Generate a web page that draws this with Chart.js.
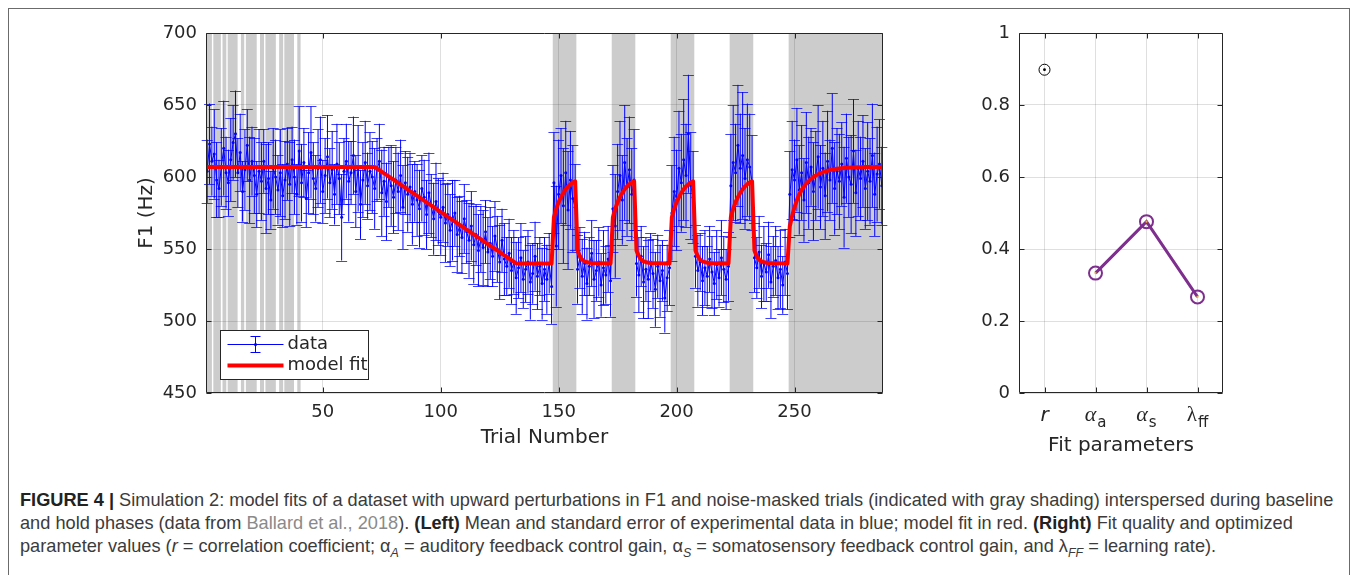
<!DOCTYPE html>
<html>
<head>
<meta charset="utf-8">
<title>Figure 4 - model fits</title>
<script src="https://cdn.jsdelivr.net/npm/chart.js@4.4.1/dist/chart.umd.min.js"></script>
<style>
    html, body { margin: 0; padding: 0; background: #fff; }
    #figure { position: relative; width: 1357px; height: 575px; overflow: hidden; }
    #frame { position: absolute; left: 8px; top: 8px; width: 1342px; height: 640px; border: 1px solid #6b6b6b; box-sizing: border-box; }
    canvas { position: absolute; top: 0; }
    #leftChart { left: 0; }
    #rightChart { left: 900px; }
    #caption {
        position: absolute; left: 20px; top: 489px;
        font-family: "Liberation Sans", Arial, sans-serif;
        font-size: 18.2px; line-height: 23px; color: #3b3b3b; white-space: nowrap;
    }
    #caption b { color: #222; }
    #caption .ref { color: #8a8a8a; }
    #caption sub { font-size: 12.5px; line-height: 0; }
</style>
</head>
<body>
<div id="figure">
    <div id="frame"></div>
    <canvas id="leftChart" width="900" height="470"></canvas>
    <canvas id="rightChart" width="457" height="470"></canvas>
    <div id="caption">
        <b>FIGURE 4 |</b> Simulation 2: model fits of a dataset with upward perturbations in F1 and noise-masked trials (indicated with gray shading) interspersed during baseline<br>
        and hold phases (data from <span class="ref">Ballard et al., 2018</span>). <b>(Left)</b> Mean and standard error of experimental data in blue; model fit in red. <b>(Right)</b> Fit quality and optimized<br>
        parameter values (<i>r</i> = correlation coefficient; α<sub><i>A</i></sub> = auditory feedback control gain, α<sub><i>S</i></sub> = somatosensory feedback control gain, and λ<sub><i>FF</i></sub> = learning rate).
    </div>
</div>

<script>
// -----------------------------
// DATA
// -----------------------------

// mean F1 per trial (Hz), trial 1..287
const f1Mean = [
    604, 623, 611, 616, 598, 592, 607, 620, 603, 596,
    612, 624, 630, 603, 617, 590, 605, 622, 598, 611,
    601, 588, 604, 597, 611, 592, 599, 584, 606, 600,
    591, 603, 587, 598, 609, 595, 612, 600, 588, 618,
    596, 610, 585, 603, 617, 599, 592, 606, 612, 590,
    601, 614, 596, 605, 588, 609, 599, 572, 604, 611,
    597, 603, 615, 590, 606, 581, 598, 610, 594, 604,
    600, 592, 605, 611, 589, 597, 583, 600, 594, 586,
    598, 590, 601, 579, 596, 588, 593, 581, 590, 584,
    578, 592, 586, 574, 589, 580, 571, 583, 576, 572,
    579, 568, 574, 563, 570, 575, 560, 566, 558, 571,
    562, 556, 566, 553, 560, 549, 557, 551, 562, 548,
    554, 545, 559, 550, 541, 556, 543, 538, 547, 535,
    541, 530, 537, 544, 529, 536, 541, 527, 533, 545,
    531, 538, 526, 536, 529, 540, 524,
    596, 552, 588, 601, 580, 603, 577, 598, 585, 579,
    536, 544, 531, 540, 526, 538, 547, 529, 535, 541, 525, 537, 532, 543, 528,
    578, 566, 590, 601, 584, 610, 593, 605, 588, 598,
    540, 532, 545, 527, 536, 529, 541, 533, 522, 538, 528, 535, 516, 530, 537,
    575, 590, 584, 606, 596, 612, 601, 630, 594, 586,
    545, 535, 541, 528, 537, 531, 543, 534, 526, 539, 530, 544, 536, 529, 538,
    594, 610, 603, 622, 606, 615, 599, 612, 607, 596,
    544, 537, 548, 531, 540, 534, 546, 527, 538, 542, 530, 536, 525, 541, 533,
    588, 605, 598, 612, 591, 603, 584, 610, 596, 607, 590,
    601, 614, 593, 606, 587, 611, 598, 620, 592, 604,
    597, 609, 586, 613, 600, 595, 618, 589, 606, 599,
    611, 592, 604, 597, 615, 588, 602, 609, 594
];

// standard error per trial (Hz)
const f1Err = [
    22, 28, 24, 31, 26, 20, 27, 33, 25, 23,
    29, 26, 30, 24, 27, 21, 28, 25, 30, 24,
    26, 23, 29, 27, 22, 31, 25, 20, 28, 26,
    24, 30, 22, 27, 25, 29, 23, 26, 21, 31,
    27, 24, 20, 28, 32, 25, 23, 27, 30, 22,
    26, 29, 24, 27, 21, 28, 25, 30, 23, 26,
    28, 22, 27, 25, 30, 24, 26, 29, 23, 27,
    25, 28, 22, 26, 30, 24, 27, 21, 28, 25,
    23, 27, 25, 29, 22, 26, 24, 28, 21, 25,
    27, 23, 26, 24, 28, 22, 25, 27, 23, 26,
    24, 27, 22, 25, 28, 23, 26, 21, 25, 24,
    22, 26, 24, 27, 21, 25, 23, 26, 22, 24,
    25, 21, 24, 23, 26, 22, 25, 20, 24, 23,
    22, 25, 21, 24, 20, 23, 22, 26, 21, 24,
    23, 20, 25, 22, 24, 21, 26,
    35, 42, 38, 33, 40, 36, 41, 34, 37, 30,
    24, 21, 26, 22, 25, 20, 23, 27, 21, 24, 22, 26, 20, 23, 25,
    30, 36, 33, 38, 31, 40, 34, 37, 32, 35,
    23, 26, 21, 25, 22, 27, 20, 24, 26, 22, 25, 21, 24, 23, 26,
    33, 38, 35, 40, 34, 42, 36, 41, 37, 32,
    22, 25, 20, 24, 26, 21, 23, 25, 22, 24, 20, 26, 23, 21, 24,
    36, 40, 34, 42, 38, 44, 35, 39, 37, 33,
    24, 21, 25, 22, 26, 20, 23, 25, 21, 24, 22, 27, 20, 23, 25,
    30, 34, 28, 36, 31, 33, 29, 35, 32, 27, 34,
    31, 36, 29, 33, 30, 35, 28, 38, 32, 30,
    33, 29, 35, 31, 28, 34, 36, 30, 33, 29,
    32, 28, 34, 30, 36, 29, 33, 31, 27
];

// model fit, trial numbers and predicted F1 (Hz)
const fitTrial = [
    1, 72, 132, 147,
    148, 149, 150, 151, 152, 153, 154, 155, 156, 157,
    158, 159, 160, 161, 162, 164, 172,
    173, 174, 175, 176, 177, 178, 179, 180, 181, 182,
    183, 184, 185, 186, 187, 189, 197,
    198, 199, 200, 201, 202, 203, 204, 205, 206, 207,
    208, 209, 210, 211, 212, 214, 222,
    223, 224, 225, 226, 227, 228, 229, 230, 231, 232,
    233, 234, 235, 236, 237, 239, 247,
    248, 249, 250, 251, 252, 253, 254, 255, 256, 258, 260, 263, 267, 272, 280, 287
];
const fitF1 = [
    607, 607, 540, 540,
    572, 578, 582.5, 586, 589, 591.5, 593.5, 595, 596.2, 597,
    549, 545, 542.5, 541.5, 540.8, 540.3, 540,
    572, 578, 582.5, 586, 589, 591.5, 593.5, 595, 596.2, 597,
    549, 545, 542.5, 541.5, 540.8, 540.3, 540,
    572, 578, 582.5, 586, 589, 591.5, 593.5, 595, 596.2, 597,
    549, 545, 542.5, 541.5, 540.8, 540.3, 540,
    572, 578, 582.5, 586, 589, 591.5, 593.5, 595, 596.2, 597,
    549, 545, 542.5, 541.5, 540.8, 540.3, 540,
    566, 573, 579, 584, 588, 591, 593.5, 595.5, 597.2, 600, 602, 604, 605.5, 606.5, 607, 607
];

// noise-masked trials (gray shading), [first, last] in trial units
const maskedBlocks = [
    [0.5, 3.0], [3.6, 6.8], [7.5, 9.1], [9.7, 13.9], [15.3, 16.7], [17.4, 22.0],
    [23.4, 25.1], [25.7, 30.1], [31.5, 33.2], [33.7, 37.8], [39.2, 40.6],
    [147.5, 157.5], [172.5, 182.5], [197.5, 207.5], [222.5, 232.5], [247.5, 287.5]
];

const trialTicks = [50, 100, 150, 200, 250];
const f1Ticks = [450, 500, 550, 600, 650, 700];

// right panel: fit parameters
const paramNames = [["r", ""], ["α", "a"], ["α", "s"], ["λ", "ff"]];
const paramValues = [0.898, 0.333, 0.476, 0.267];
const paramTicks = [0, 0.2, 0.4, 0.6, 0.8, 1];

// -----------------------------
// STYLE
// -----------------------------
const INK = "#262626";
const GRID = "rgba(38,38,38,0.15)";
const FAMILY = "'DejaVu Sans', sans-serif";

// -----------------------------
// PLUGINS
// -----------------------------
const shadingPlugin = {
    id: "shading",
    beforeDraw(chart, args, opts) {

        const { ctx, chartArea: a, scales: { x } } = chart;

        ctx.save();
        ctx.fillStyle = "#cccccc";
        opts.blocks.forEach(([s, e]) => {
            const x0 = x.getPixelForValue(s);
            const x1 = x.getPixelForValue(e);
            ctx.fillRect(x0, a.top, x1 - x0, a.bottom - a.top);
        });
        ctx.restore();
    }
};

const errorBarPlugin = {
    id: "errorBars",
    beforeDatasetsDraw(chart) {

        const { ctx, scales: { y } } = chart;
        const meta = chart.getDatasetMeta(0);

        ctx.save();
        ctx.lineWidth = 1;

        // stems
        ctx.strokeStyle = "#0000ff";
        ctx.beginPath();
        meta.data.forEach((pt, i) => {
            ctx.moveTo(pt.x, y.getPixelForValue(f1Mean[i] + f1Err[i]));
            ctx.lineTo(pt.x, y.getPixelForValue(f1Mean[i] - f1Err[i]));
        });
        ctx.stroke();

        // caps
        ctx.strokeStyle = "rgba(0,0,255,0.75)";
        ctx.beginPath();
        meta.data.forEach((pt, i) => {
            const top = Math.round(y.getPixelForValue(f1Mean[i] + f1Err[i])) + 0.5;
            const bot = Math.round(y.getPixelForValue(f1Mean[i] - f1Err[i])) + 0.5;
            ctx.moveTo(pt.x - 5.5, top);
            ctx.lineTo(pt.x + 5.5, top);
            ctx.moveTo(pt.x - 5.5, bot);
            ctx.lineTo(pt.x + 5.5, bot);
        });
        ctx.stroke();
        ctx.restore();
    }
};

// matlab style box with inward ticks
const boxPlugin = {
    id: "box",
    afterDatasetsDraw(chart) {

        const { ctx, chartArea: a, scales: { x, y } } = chart;
        const L = Math.round(a.left) + 0.5;
        const R = Math.round(a.right) - 0.5;
        const T = Math.round(a.top) + 0.5;
        const B = Math.round(a.bottom) - 0.5;

        ctx.save();
        ctx.strokeStyle = INK;
        ctx.lineWidth = 1;
        ctx.beginPath();
        ctx.rect(L, T, R - L, B - T);
        x.ticks.forEach(t => {
            const px = Math.round(x.getPixelForValue(t.value)) + 0.5;
            ctx.moveTo(px, B); ctx.lineTo(px, B - 5);
            ctx.moveTo(px, T); ctx.lineTo(px, T + 5);
        });
        y.ticks.forEach(t => {
            const py = Math.round(y.getPixelForValue(t.value)) + 0.5;
            ctx.moveTo(L, py); ctx.lineTo(L + 5, py);
            ctx.moveTo(R, py); ctx.lineTo(R - 5, py);
        });
        ctx.stroke();
        ctx.restore();
    }
};

const legendPlugin = {
    id: "boxLegend",
    afterDraw(chart) {

        const { ctx, chartArea: a } = chart;
        const lx = Math.round(a.left) + 14.5;
        const ly = Math.round(a.bottom) - 62.5;
        const row1 = ly + 14;
        const row2 = ly + 35;

        ctx.save();
        ctx.fillStyle = "#fff";
        ctx.strokeStyle = INK;
        ctx.lineWidth = 1;
        ctx.fillRect(lx, ly, 148, 49);
        ctx.strokeRect(lx, ly, 148, 49);

        // data entry: line with error bar
        ctx.strokeStyle = "#0000ff";
        ctx.beginPath();
        ctx.moveTo(lx + 7, row1); ctx.lineTo(lx + 63, row1);
        ctx.moveTo(lx + 35, row1 - 8); ctx.lineTo(lx + 35, row1 + 8);
        ctx.moveTo(lx + 30, row1 - 8); ctx.lineTo(lx + 40, row1 - 8);
        ctx.moveTo(lx + 30, row1 + 8); ctx.lineTo(lx + 40, row1 + 8);
        ctx.stroke();
        ctx.fillStyle = "#0000ff";
        ctx.beginPath();
        ctx.arc(lx + 35, row1, 1.6, 0, Math.PI * 2);
        ctx.fill();

        // model fit entry
        ctx.strokeStyle = "#ff0000";
        ctx.lineWidth = 4;
        ctx.beginPath();
        ctx.moveTo(lx + 7, row2); ctx.lineTo(lx + 63, row2);
        ctx.stroke();

        ctx.fillStyle = INK;
        ctx.font = "18px " + FAMILY;
        ctx.textBaseline = "middle";
        ctx.fillText("data", lx + 67, row1);
        ctx.fillText("model fit", lx + 67, row2);
        ctx.restore();
    }
};

const paramLabelPlugin = {
    id: "paramLabels",
    afterDraw(chart) {

        const { ctx, chartArea: a, scales: { x } } = chart;
        const base = a.bottom + 28;

        ctx.save();
        ctx.fillStyle = INK;
        ctx.textBaseline = "alphabetic";
        ctx.textAlign = "left";
        paramNames.forEach(([main, sub], i) => {
            const cx = x.getPixelForValue(i + 1);
            const mainFont = i === 0 ? "italic 20px " + FAMILY : (main === "α" ? "italic 22px 'Liberation Serif'" : "21px 'Liberation Serif'");
            const subFont = "15px " + FAMILY;
            ctx.font = mainFont;
            const w1 = ctx.measureText(main).width;
            ctx.font = subFont;
            const w2 = sub ? ctx.measureText(sub).width + 1 : 0;
            const x0 = cx - (w1 + w2) / 2;
            ctx.font = mainFont;
            ctx.fillText(main, x0, base);
            if (sub) {
                ctx.font = subFont;
                ctx.fillText(sub, x0 + w1 + 1, base + 6);
            }
        });
        ctx.restore();
    }
};

// -----------------------------
// SHARED AXIS OPTIONS
// -----------------------------
function axis(extra) {

    return Object.assign({
        type: "linear",
        grid: { color: GRID, drawTicks: false, lineWidth: 1 },
        border: { display: false },
        ticks: {
            color: INK,
            font: { family: FAMILY, size: 18 },
            padding: 9,
            maxRotation: 0,
            autoSkip: false,
            callback: v => String(v)
        }
    }, extra);
}

function baseOptions() {

    return {
        responsive: false,
        animation: false,
        events: [],
        devicePixelRatio: 1,
        plugins: { legend: { display: false }, tooltip: { enabled: false } }
    };
}

// -----------------------------
// LEFT PANEL: F1 over trials
// -----------------------------
function drawLeft() {

    const options = baseOptions();
    options.layout = { padding: { left: 135, top: 33, right: 17, bottom: 20 } };
    options.plugins.shading = { blocks: maskedBlocks };
    options.scales = {
        x: axis({
            min: 0.5, max: 287.5,
            afterBuildTicks: s => { s.ticks = trialTicks.map(v => ({ value: v })); },
            afterFit: s => { s.height = 57; },
            title: { display: true, text: "Trial Number", color: INK, font: { family: FAMILY, size: 20 }, padding: 0 }
        }),
        y: axis({
            min: 450, max: 700,
            afterBuildTicks: s => { s.ticks = f1Ticks.map(v => ({ value: v })); },
            afterFit: s => { s.width = 71; },
            title: { display: true, text: "F1 (Hz)", color: INK, font: { family: FAMILY, size: 20 }, padding: 0 }
        })
    };
    options.scales.x.ticks.padding = 9;

    new Chart(document.getElementById("leftChart"), {
        type: "line",
        data: {
            datasets: [
                {
                    label: "data",
                    data: f1Mean.map((v, i) => ({ x: i + 1, y: v })),
                    borderColor: "#0000ff",
                    borderWidth: 1,
                    pointRadius: 1.5,
                    pointBackgroundColor: "#0000ff",
                    pointBorderWidth: 0,
                    order: 2
                },
                {
                    label: "model fit",
                    data: fitTrial.map((t, i) => ({ x: t, y: fitF1[i] })),
                    borderColor: "#ff0000",
                    borderWidth: 4,
                    borderJoinStyle: "round",
                    pointRadius: 0,
                    order: 1
                }
            ]
        },
        options: options,
        plugins: [shadingPlugin, errorBarPlugin, boxPlugin, legendPlugin]
    });
}

// -----------------------------
// RIGHT PANEL: fit parameters
// -----------------------------
function drawRight() {

    const options = baseOptions();
    options.layout = { padding: { left: 0, top: 33, right: 134, bottom: 12 } };
    options.scales = {
        x: axis({
            min: 0.5, max: 4.5,
            afterBuildTicks: s => { s.ticks = paramNames.map((_, i) => ({ value: i + 1 })); },
            afterFit: s => { s.height = 65; },
            title: { display: true, text: "Fit parameters", color: INK, font: { family: FAMILY, size: 20 }, padding: 0 }
        }),
        y: axis({
            min: 0, max: 1,
            afterBuildTicks: s => { s.ticks = paramTicks.map(v => ({ value: v })); },
            afterFit: s => { s.width = 119; }
        })
    };
    options.scales.x.ticks.display = false;

    const gains = paramValues.slice(1).map((v, i) => ({ x: i + 2, y: v }));
    const rPoint = [{ x: 1, y: paramValues[0] }];

    new Chart(document.getElementById("rightChart"), {
        type: "line",
        data: {
            datasets: [
                { label: "r centre", data: rPoint, showLine: false, pointRadius: 1.4, pointBackgroundColor: "#000", pointBorderWidth: 0, order: 1 },
                { label: "r", data: rPoint, showLine: false, pointRadius: 5.5, pointBorderColor: "#000", pointBorderWidth: 1, pointBackgroundColor: "rgba(0,0,0,0)", order: 2 },
                { label: "gain centres", data: gains, showLine: false, pointRadius: 1.1, pointBackgroundColor: "#edb120", pointBorderWidth: 0, order: 3 },
                {
                    label: "gains",
                    data: gains,
                    borderColor: "#7e2f8e",
                    borderWidth: 3,
                    pointRadius: 6.5,
                    pointBorderWidth: 2,
                    pointBorderColor: "#7e2f8e",
                    pointBackgroundColor: "rgba(0,0,0,0)",
                    order: 4
                }
            ]
        },
        options: options,
        plugins: [boxPlugin, paramLabelPlugin]
    });
}

// -----------------------------
// START
// -----------------------------
drawLeft();
drawRight();
</script>
</body>
</html>
